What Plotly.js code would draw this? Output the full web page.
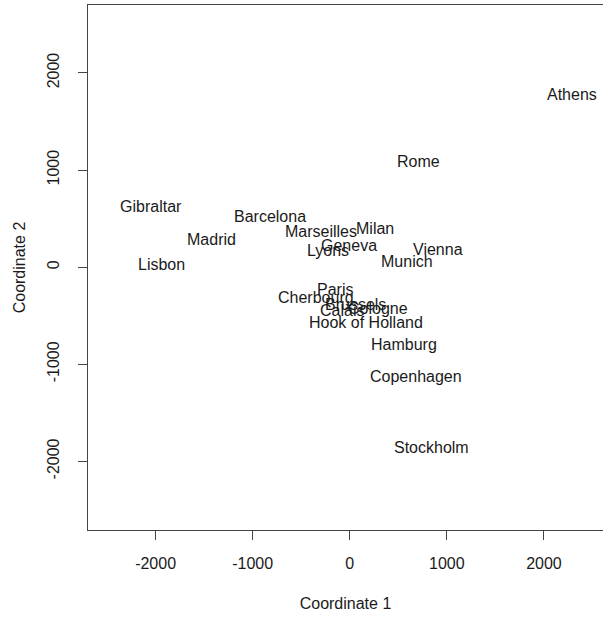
<!DOCTYPE html>
<html>
<head>
<meta charset="utf-8">
<script src="https://cdn.plot.ly/plotly-3.0.1.min.js"></script>
<style>html,body{margin:0;padding:0;background:#fff;overflow:hidden}</style>
</head>
<body>
<div id="chart" style="width:603px;height:617px"></div>
<script>
const cities = ["Athens","Barcelona","Brussels","Calais","Cherbourg","Cologne","Copenhagen","Geneva","Gibraltar","Hamburg","Hook of Holland","Lisbon","Lyons","Madrid","Marseilles","Milan","Munich","Paris","Rome","Stockholm","Vienna"];
const coord1 = [2290.27, -825.38, 59.18, -82.85, -352.50, 293.69, 681.93, -9.42, -2048.45, 561.11, 164.92, -1935.04, -226.42, -1423.35, -299.50, 260.88, 587.68, -156.84, 709.41, 839.45, 911.23];
const coord2 = [1798.80, 546.81, -367.08, -429.91, -290.91, -405.31, -1108.64, 240.41, 642.46, -773.37, -549.37, 49.13, 187.09, 305.88, 388.81, 416.67, 81.18, -211.14, 1109.37, -1836.79, 205.93];
const tickVals = [-2000, -1000, 0, 1000, 2000];
const tickText = ["-2000", "-1000", "0", "1000", "2000"];

const font = "Liberation Sans, Arial, sans-serif";
const txtColor = "#1a1a1a";
// invisible trace to establish axes
const trace = {
  x: coord1, y: coord2, type: "scatter", mode: "markers",
  marker: {opacity: 0, size: 1}, hoverinfo: "none"
};
const annotations = cities.map((c, i) => ({
  x: coord1[i], y: coord2[i], xref: "x", yref: "y", text: c,
  showarrow: false, xanchor: "center", yanchor: "middle", yshift: -2,
  font: {family: font, size: 16, color: txtColor}
}));
const axisCommon = {
  showgrid: false, zeroline: false, showline: true, linecolor: "#444", linewidth: 1,
  ticks: "outside", ticklen: 9, tickcolor: "#444", tickwidth: 1,
  tickmode: "array", tickvals: tickVals, ticktext: tickText,
  tickfont: {family: font, size: 16, color: txtColor}
};
const layout = {
  width: 603, height: 617,
  margin: {l: 88, r: 0, t: 5, b: 87},
  paper_bgcolor: "#fff", plot_bgcolor: "#fff",
  showlegend: false,
  annotations: annotations,
  xaxis: Object.assign({}, axisCommon, {
    range: [-2696, 2608], mirror: true, ticklabelstandoff: 10,
    title: {text: "Coordinate 1", font: {family: font, size: 16, color: txtColor}, standoff: 26}
  }),
  yaxis: Object.assign({}, axisCommon, {
    range: [-2707, 2700], tickangle: -90, ticklabelstandoff: 13,
    title: {text: "Coordinate 2", font: {family: font, size: 16, color: txtColor}, standoff: 14}
  })
};
Plotly.newPlot("chart", [trace], layout, {staticPlot: true, displayModeBar: false});
</script>
</body>
</html>
